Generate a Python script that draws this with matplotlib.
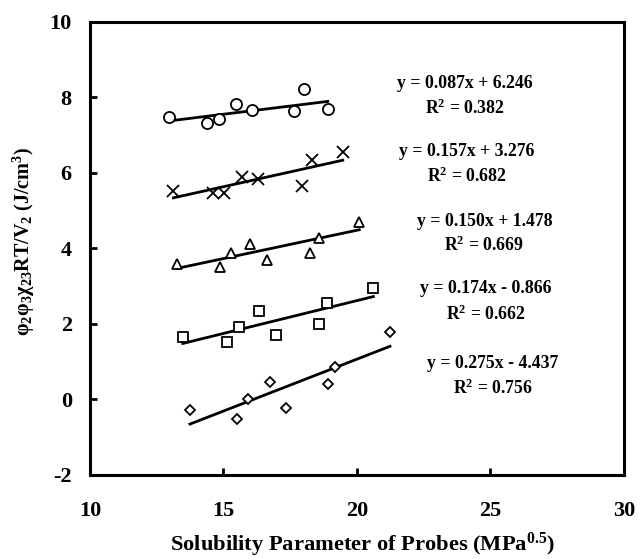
import matplotlib
matplotlib.use("Agg")
import matplotlib.pyplot as plt
import numpy as np

plt.rcParams['font.family'] = ['Liberation Serif', 'DejaVu Serif']
plt.rcParams['font.weight'] = 'bold'
plt.rcParams['axes.unicode_minus'] = False
plt.rcParams['mathtext.fontset'] = 'custom'
plt.rcParams['mathtext.rm'] = 'Liberation Serif:bold'
plt.rcParams['mathtext.it'] = 'Liberation Serif:bold'
plt.rcParams['mathtext.bf'] = 'Liberation Serif:bold'

# Data
x_circle = [12.98, 14.40, 14.84, 15.48, 16.07, 17.66, 18.01, 18.91]
y_circle = [7.47, 7.31, 7.42, 7.81, 7.66, 7.64, 8.23, 7.68]
x_cross = [13.13, 14.63, 15.04, 15.71, 16.31, 17.96, 18.31, 19.47]
y_cross = [5.52, 5.47, 5.47, 5.89, 5.83, 5.66, 6.34, 6.54]
x_tri = [13.28, 14.88, 15.29, 16.01, 16.65, 18.25, 18.60, 20.09]
y_tri = [3.58, 3.50, 3.87, 4.11, 3.68, 3.87, 4.27, 4.69]
x_sq = [13.48, 15.15, 15.59, 16.35, 16.97, 18.57, 18.87, 20.62]
y_sq = [1.66, 1.53, 1.91, 2.34, 1.71, 2.00, 2.55, 2.94]
x_dia = [13.75, 15.50, 15.93, 16.74, 17.36, 18.93, 19.17, 21.24]
y_dia = [-0.27, -0.52, 0.00, 0.46, -0.23, 0.41, 0.86, 1.78]

slopes = [0.087, 0.157, 0.150, 0.174, 0.275]
intercepts = [6.246, 3.276, 1.478, -0.866, -4.437]
eq_labels = ["y = 0.087x + 6.246", "y = 0.157x + 3.276", "y = 0.150x + 1.478",
             "y = 0.174x - 0.866", "y = 0.275x - 4.437"]
r2_labels = ["0.382", "0.682", "0.669", "0.662", "0.756"]

xs = [x_circle, x_cross, x_tri, x_sq, x_dia]
ys = [y_circle, y_cross, y_tri, y_sq, y_dia]
markers = ['o', 'x', '^', 's', 'D']
msizes = [8, 8, 7, 7, 5.5]

eq_pos = [(24.05, 8.37, 7.70), (24.13, 6.57, 5.90), (24.78, 4.71, 4.09),
          (24.84, 2.93, 2.26), (25.10, 0.95, 0.29)]

fig = plt.figure(figsize=(6.42, 5.59), dpi=100)
ax = fig.add_axes([0.14, 0.1506, 0.8317, 0.8104])

for x, y, m, ms, a, b in zip(xs, ys, markers, msizes, slopes, intercepts):
    if m == 'x':
        ax.plot(x, y, linestyle='none', marker=m, ms=ms, color='black', mew=1.3)
    else:
        ax.plot(x, y, linestyle='none', marker=m, ms=ms, mfc='white', mec='black', mew=1.3)
    xl = np.array([min(x), max(x)])
    ax.plot(xl, a * xl + b, color='black', lw=2.0, zorder=1)

for (px, py1, py2), eq, r2 in zip(eq_pos, eq_labels, r2_labels):
    ax.text(px, py1, eq, ha='center', va='center', fontsize=12.8, fontweight='bold')
    ax.text(px, py2, "R$^2$ = " + r2, ha='center', va='center', fontsize=12.8, fontweight='bold')

ax.set_xlim(10, 30)
ax.set_ylim(-2, 10)
ax.set_xticks([10, 15, 20, 25, 30])
ax.set_yticks([-2, 0, 2, 4, 6, 8, 10])
ax.tick_params(direction='in', length=5, width=2, labelsize=16)
ax.tick_params(axis='x', pad=19)
ax.tick_params(axis='y', pad=13)
for lab in ax.get_xticklabels() + ax.get_yticklabels():
    lab.set_fontweight('bold')
for sp in ax.spines.values():
    sp.set_linewidth(2.2)

ax.set_xlabel('Solubility Parameter of Probes (MPa$^{0.5}$)', fontsize=16.2, fontweight='bold')
ax.xaxis.set_label_coords(0.51, -0.124)
ax.set_ylabel('φ$_2$φ$_3$χ$_{23}$RT/V$_2$ (J/cm$^3$)', fontsize=14.5, fontweight='bold')
ax.yaxis.set_label_coords(-0.099, 0.515)

fig.savefig('out.png', dpi=100)
